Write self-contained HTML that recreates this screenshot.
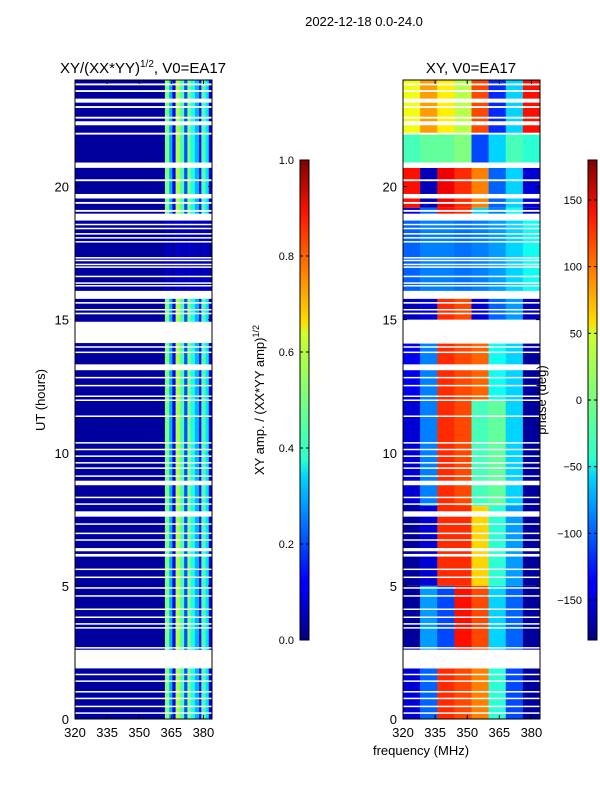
<!DOCTYPE html>
<html><head><meta charset="utf-8"><style>
body{margin:0;background:#fff;width:600px;height:800px;overflow:hidden;font-family:"Liberation Sans",sans-serif}
svg{position:absolute;left:0;top:0}
</style></head><body>
<svg id="chart" width="600" height="800" xmlns="http://www.w3.org/2000/svg" font-family="Liberation Sans, sans-serif">
<defs>
<linearGradient id="jet" x1="0" y1="1" x2="0" y2="0">
<stop offset="0" stop-color="#00007f"/><stop offset="0.11" stop-color="#0000ff"/><stop offset="0.125" stop-color="#0000ff"/><stop offset="0.34" stop-color="#00d4ff"/><stop offset="0.375" stop-color="#29ffce"/><stop offset="0.64" stop-color="#ceff29"/><stop offset="0.66" stop-color="#ffdf00"/><stop offset="0.89" stop-color="#ff1300"/><stop offset="1" stop-color="#7f0000"/>
</linearGradient>
</defs>
<text x="364" y="26" font-size="13" text-anchor="middle">2022-12-18 0.0-24.0</text>
<g id="left"></g><g id="right"></g><g id="cbars"></g>
</svg>
<script>
const NS="http://www.w3.org/2000/svg";
const svg=document.getElementById('chart');
function mk(tag,attrs,parent){const e=document.createElementNS(NS,tag);for(const k in attrs)e.setAttribute(k,attrs[k]);(parent||svg).appendChild(e);return e;}
// ---- data ----
const xTicks=[320,335,350,365,380];
const yTicks=[0,5,10,15,20];
const ampTicks=[0.0,0.2,0.4,0.6,0.8,1.0];
const phaseTicks=[-150,-100,-50,0,50,100,150];
const ampFreqStart=[320,362,364,365.5,367,369,371,372.5,374,376,378,379,381,382.5];
const ampFreqEnd=[362,364,365.5,367,369,371,372.5,374,376,378,379,381,382.5,384];
const ampValues=[0.03,0.5,0.3,0.12,0.55,0.45,0.2,0.5,0.4,0.3,0.12,0.45,0.35,0.08];
const ampBandStart=[0,15.8,18.9];
const ampBandEnd=[15.8,18.9,24];
const ampBandScale=[1,0.08,1];
const phaseFreqEdges=[320,328,336,344,352,360,368,376,384];
const phaseBandStart=[22.0,20.9,19.2,18.9,15.8,15.0,12,8,5,2.6,0];
const phaseBandEnd=[24,22.0,20.7,19.2,18.9,15.8,14.1,12,8,5,1.9];
const phaseValues=[
[40,80,50,20,110,-120,-60,130],
[-20,-10,-10,0,-110,-60,-20,-30],
[130,-160,140,120,90,-100,-60,-150],
[-150,-100,130,120,-60,-90,-40,-160],
[-100,-90,-90,-95,-90,-80,-60,-40],
[-160,-150,120,110,-150,-100,-80,-160],
[-140,-90,120,110,100,-40,-60,-170],
[-150,-90,120,110,-20,-10,-60,-170],
[-170,-150,120,120,60,-30,-80,-170],
[-170,-80,-110,130,110,-60,-100,-170],
[-150,-100,120,110,90,-30,-110,-170]];
const gapStart=[23.8,23.55,23.15,22.95,22.55,22.3,21.95,20.7,20.2,19.55,19.35,19.05,18.72,18.55,18.4,18.2,18.05,17.9,17.3,17.2,17.05,16.95,16.6,16.35,16.25,15.78,15.6,15.35,15.2,14.12,13.95,13.75,13.1,12.8,12.5,12.1,11.95,11.35,10.35,10.1,9.85,9.6,9.4,9.1,8.78,8.3,8.05,7.6,7.3,6.95,6.7,6.3,6.1,5.6,5.3,4.9,4.6,4.1,3.8,3.55,3.4,2.65,1.9,1.65,1.4,1.0,0.75,0.45,0.2];
const gapEnd=[23.87,23.62,23.3,23.02,22.62,22.45,22.02,20.9,20.27,19.72,19.42,19.12,18.98,18.6,18.45,18.25,18.1,17.95,17.35,17.25,17.1,17.0,16.65,16.4,16.3,16.08,15.66,15.4,15.26,14.92,14.0,13.8,13.32,12.85,12.55,12.15,12.0,11.4,10.4,10.15,9.9,9.65,9.45,9.15,8.95,8.35,8.1,7.8,7.35,7.0,6.75,6.42,6.2,5.65,5.35,4.95,4.65,4.15,3.85,3.6,3.45,2.7,2.6,1.7,1.45,1.05,0.8,0.5,0.25];
// ---- scales ----
const Y0=719,Y1=80;
function yS(h){return Y0-(h/24)*(Y0-Y1);}
function xS(x0,f){return x0+(f-320)/64*137;}
function jet(v){v=Math.max(0,Math.min(1,v));
 const r=Math.max(0,Math.min(1,1.5-Math.abs(4*v-3))),g=Math.max(0,Math.min(1,1.5-Math.abs(4*v-2))),b=Math.max(0,Math.min(1,1.5-Math.abs(4*v-1)));
 return `rgb(${Math.round(r*255)},${Math.round(g*255)},${Math.round(b*255)})`;}
function panel(gid,name){
 const g=document.getElementById(gid);
 
 
 return g;}
const gl=panel('left','amplitude-panel');
for(let b=0;b<ampBandStart.length;b++){for(let i=0;i<ampValues.length;i++){
 const v=ampBandScale[b]===1?ampValues[i]:0.03+(ampValues[i]-0.03)*ampBandScale[b];
 const r=mk('rect',{x:xS(75,ampFreqStart[i]),y:yS(ampBandEnd[b]),width:xS(75,ampFreqEnd[i])-xS(75,ampFreqStart[i])+0.3,height:yS(ampBandStart[b])-yS(ampBandEnd[b]),fill:jet(v)},gl);
 
 }}
const gr=panel('right','phase-panel');
for(let b=0;b<phaseBandStart.length;b++){for(let i=0;i<8;i++){
 const v=(phaseValues[b][i]+180)/360;
 const r=mk('rect',{x:xS(403,phaseFreqEdges[i]),y:yS(phaseBandEnd[b]),width:xS(403,phaseFreqEdges[i+1])-xS(403,phaseFreqEdges[i])+0.3,height:yS(phaseBandStart[b])-yS(phaseBandEnd[b]),fill:jet(v)},gr);
 
 }}
[[gl,75],[gr,403]].forEach(([g,x0])=>{
 for(let k=0;k<gapStart.length;k++){
  const r=mk('rect',{x:x0,y:yS(gapEnd[k]),width:137,height:Math.max(1.5,yS(gapStart[k])-yS(gapEnd[k])),fill:'#fff'},g);
  
  }
});
function axes(g,x0){
 mk('rect',{x:x0,y:Y1,width:137,height:Y0-Y1,fill:'none',stroke:'#000','stroke-width':1},g);
 xTicks.forEach(t=>{const x=xS(x0,t);
  mk('line',{x1:x,x2:x,y1:Y0,y2:Y0-4,stroke:'#000'},g);mk('line',{x1:x,x2:x,y1:Y1,y2:Y1+4,stroke:'#000'},g);
  const tx=mk('text',{x:x,y:Y0+18,'font-size':13,'text-anchor':'middle'},g);tx.textContent=t;
  
  });
 yTicks.forEach(t=>{const y=yS(t);
  mk('line',{x1:x0,x2:x0+4,y1:y,y2:y,stroke:'#000'},g);mk('line',{x1:x0+137,x2:x0+133,y1:y,y2:y,stroke:'#000'},g);
  const tx=mk('text',{x:x0-6,y:y+5,'font-size':13,'text-anchor':'end'},g);tx.textContent=t;
  
  });
}
axes(gl,75);axes(gr,403);
const t1=mk('text',{x:143,y:73,'font-size':15,'text-anchor':'middle'});
t1.innerHTML='XY/(XX*YY)<tspan font-size="10" dy="-6">1/2</tspan><tspan dy="6">, V0=EA17</tspan>';


const t2=mk('text',{x:471,y:73,'font-size':15,'text-anchor':'middle'});t2.textContent='XY, V0=EA17';


const yl=mk('text',{x:45,y:400,'font-size':13,'text-anchor':'middle',transform:'rotate(-90 45 400)'});yl.textContent='UT (hours)';


const xl=mk('text',{x:421,y:755,'font-size':13,'text-anchor':'middle'});xl.textContent='frequency (MHz)';


function cbar(x,ticks,lo,hi,name,fmt){
 const g=mk('g',{});
 
 
 mk('rect',{x:x,y:160,width:9,height:480,fill:'url(#jet)',stroke:'#000','stroke-width':1},g);
 ticks.forEach(t=>{const y=640-(t-lo)/(hi-lo)*480;
  mk('line',{x1:x,x2:x+3,y1:y,y2:y,stroke:'#000'},g);mk('line',{x1:x+9,x2:x+6,y1:y,y2:y,stroke:'#000'},g);
  const tx=mk('text',{x:x-6,y:y+4,'font-size':11,'text-anchor':'end'},g);tx.textContent=fmt(t);
  
  });
 return g;}
cbar(300,ampTicks,0,1,'amplitude-colorbar',t=>t.toFixed(1));
cbar(588,phaseTicks,-180,180,'phase-colorbar',t=>t<0?'\u2212'+(-t):''+t);
const cl1=mk('text',{x:264,y:400,'font-size':13,'text-anchor':'middle',transform:'rotate(-90 264 400)'});
cl1.innerHTML='XY amp. / (XX*YY amp)<tspan font-size="9" dy="-5">1/2</tspan>';


const cl2=mk('text',{x:546,y:400,'font-size':13,'text-anchor':'middle',transform:'rotate(-90 546 400)'});cl2.textContent='phase (deg)';


</script>
</body></html>
